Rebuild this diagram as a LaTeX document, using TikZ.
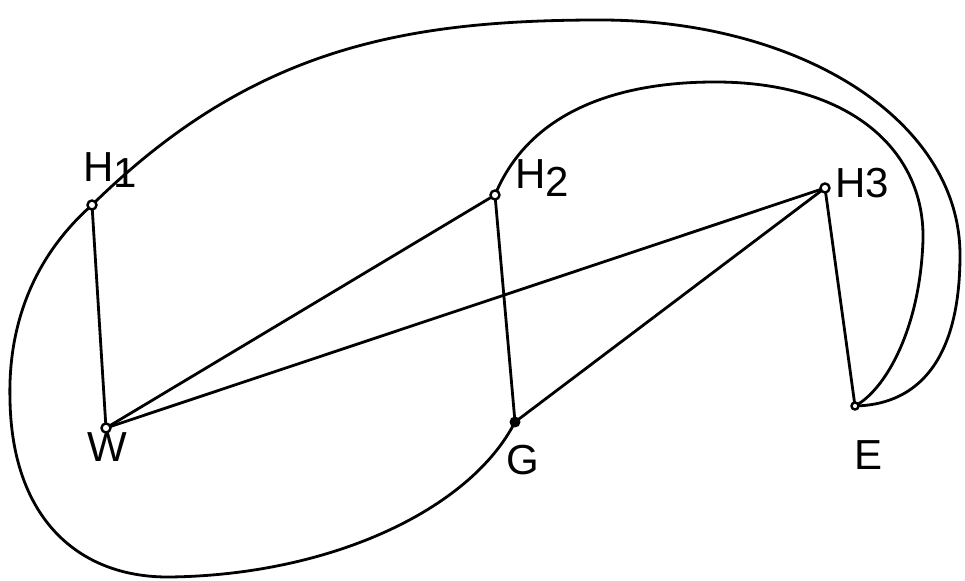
\documentclass[tikz,border=0pt]{standalone}
\usepackage{fontspec}
\setmainfont{Liberation Sans}
\begin{document}
\begin{tikzpicture}[x=0.5pt,y=-0.5pt,
  edge/.style={line width=1.4pt, black},
  vtx/.style={circle, draw, line width=1.2pt, fill=white, inner sep=0pt, minimum size=4.5pt},
  vtxfill/.style={circle, fill=black, inner sep=0pt, minimum size=5.5pt},
  lbl/.style={font=\fontsize{21}{21}\selectfont, inner sep=0pt}]
\useasboundingbox (0,0) rectangle (965,581);
\fill[white] (0,0) rectangle (965,581);
% vertices
\coordinate (H1) at (92,205);
\coordinate (H2) at (495,195);
\coordinate (H3) at (825,188);
\coordinate (W) at (106,428);
\coordinate (G) at (515,422);
\coordinate (E) at (855,406);
% straight edges
\draw[edge] (H1) -- (W);
\draw[edge] (H2) -- (G);
\draw[edge] (H3) -- (E);
\draw[edge] (W) -- (H2);
\draw[edge] (W) -- (H3);
\draw[edge] (G) -- (H3);
% curved edges
\draw[edge] (H1) .. controls (250,50) and (400,20) .. (600,20)
  .. controls (800,20) and (960,120) .. (960,255)
  .. controls (960,370) and (910,405) .. (E);
\draw[edge] (H2) .. controls (530,110) and (620,82) .. (715,82)
  .. controls (850,82) and (925,150) .. (923,240)
  .. controls (920,330) and (885,390) .. (E);
\draw[edge] (H1) .. controls (30,260) and (8,330) .. (10,400)
  .. controls (12,520) and (80,578) .. (170,577)
  .. controls (330,575) and (470,510) .. (G);
% vertex marks
\node[vtx] (nH1) at (H1) {};
\node[vtx] (nH2) at (H2) {};
\node[vtx] (nH3) at (H3) {};
\node[vtx] (nW) at (W) {};
\node[vtxfill] (nG) at (G) {};
\node[vtx, minimum size=3.5pt] (nE) at (E) {};
% labels
\node[lbl] (lH1) at (110,170) {H\raisebox{-0.3ex}{1}};
\node[lbl] (lH2) at (542,178) {H\raisebox{-0.35ex}{2}};
\node[lbl] (lH3) at (862,183) {H3};
\node[lbl] (lW) at (107,447) {W};
\node[lbl] (lG) at (523,460) {G};
\node[lbl] (lE) at (869,455) {E};
\end{tikzpicture}
\end{document}
